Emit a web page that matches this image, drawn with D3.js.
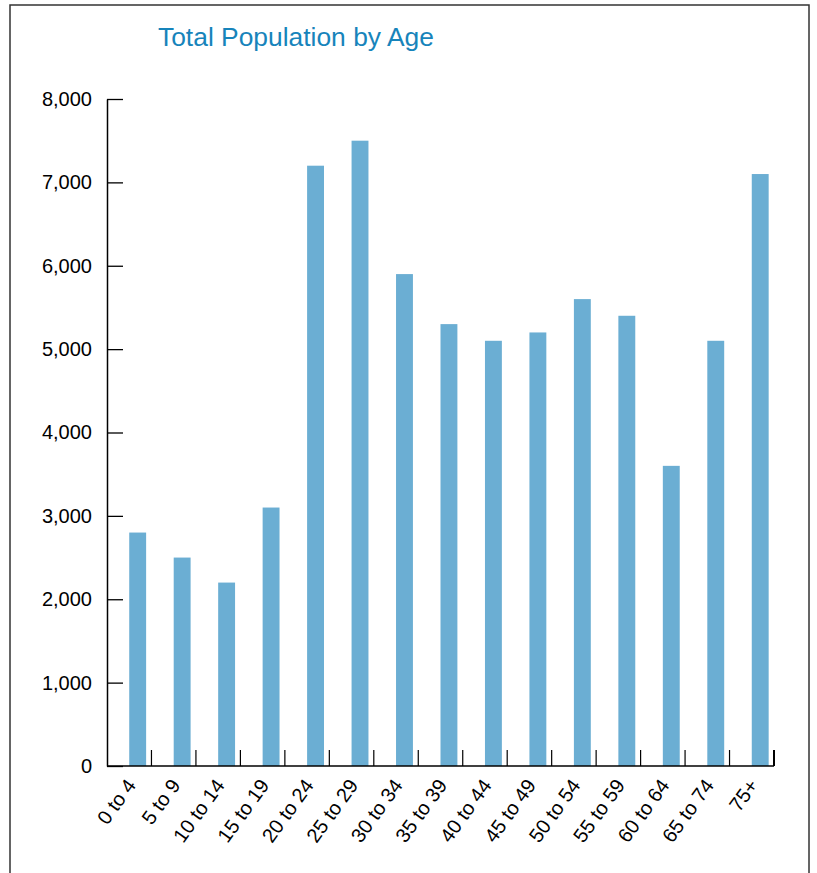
<!DOCTYPE html>
<html lang="en">
<head>
    <meta charset="UTF-8">
    <title>Total Population by Age</title>
    <script src="https://d3js.org/d3.v7.min.js"></script>
    <style>
        body { margin: 0; background: #fff; }
        svg { display: block; font-family: "Liberation Sans", Arial, Helvetica, sans-serif; }
    </style>
</head>
<body>
    <svg id="chart" width="817" height="873"></svg>
    <script>
        // data
        const ageGroups = ["0 to 4", "5 to 9", "10 to 14", "15 to 19", "20 to 24", "25 to 29", "30 to 34",
            "35 to 39", "40 to 44", "45 to 49", "50 to 54", "55 to 59", "60 to 64", "65 to 74", "75+"];
        const population = [2800, 2500, 2200, 3100, 7200, 7500, 5900, 5300, 5100, 5200, 5600, 5400, 3600, 5100, 7100];
        const yTicks = [0, 1000, 2000, 3000, 4000, 5000, 6000, 7000, 8000];

        const svg = d3.select("#chart");
        const plotLeft = 107, plotRight = 774, plotTop = 99, plotBottom = 766;

        // outer frame
        svg.append("rect")
            .attr("x", 10).attr("y", 5)
            .attr("width", 799).attr("height", 900)
            .attr("fill", "none")
            .attr("stroke", "#333")
            .attr("stroke-width", 1.5);

        svg.append("text")
            .attr("x", 158)
            .attr("y", 46)
            .attr("font-size", "26.4px")
            .attr("fill", "#1784bb")
            .text("Total Population by Age");

        const x = d3.scaleBand().domain(ageGroups).range([plotLeft, plotRight]).padding(0);
        const y = d3.scaleLinear().domain([0, 8000]).range([plotBottom, plotTop]);

        // bars sit in the right half of each band
        svg.selectAll("rect.bar")
            .data(population)
            .enter().append("rect")
            .attr("class", "bar")
            .attr("x", (d, i) => x(ageGroups[i]) + x.bandwidth() * 0.5)
            .attr("width", x.bandwidth() * 0.38)
            .attr("y", d => y(d))
            .attr("height", d => y(0) - y(d))
            .attr("fill", "#6baed3");

        // y axis, ticks pointing inward
        const yAxis = svg.append("g")
            .attr("transform", `translate(${plotLeft},0)`)
            .call(d3.axisLeft(y).tickValues(yTicks).tickSize(-16).tickSizeOuter(0).tickPadding(15)
                .tickFormat(d3.format(",")));
        yAxis.attr("font-size", 20).attr("font-family", "'Liberation Sans', Arial, sans-serif");
        yAxis.select(".domain").attr("stroke", "#000").attr("stroke-width", 1.5);
        yAxis.selectAll(".tick line").attr("stroke", "#000").attr("stroke-width", 1.3);
        yAxis.selectAll(".tick text").attr("fill", "#000");

        // x axis line
        svg.append("line")
            .attr("x1", plotLeft).attr("x2", plotRight)
            .attr("y1", plotBottom).attr("y2", plotBottom)
            .attr("stroke", "#000").attr("stroke-width", 1.5);

        // separators between bands, pointing up
        svg.selectAll("line.sep")
            .data(ageGroups)
            .enter().append("line")
            .attr("class", "sep")
            .attr("x1", d => x(d) + x.bandwidth())
            .attr("x2", d => x(d) + x.bandwidth())
            .attr("y1", plotBottom)
            .attr("y2", plotBottom - 16)
            .attr("stroke", "#000")
            .attr("stroke-width", (d, i) => i === ageGroups.length - 1 ? 2 : 1.2);

        svg.selectAll("text.xlab")
            .data(ageGroups)
            .enter().append("text")
            .attr("class", "xlab")
            .attr("text-anchor", "end")
            .attr("font-size", "20px")
            .attr("transform", d => `translate(${x(d) + x.bandwidth() * 0.668},${plotBottom + 19.5}) rotate(-54)`)
            .text(d => d);
    </script>
</body>
</html>
